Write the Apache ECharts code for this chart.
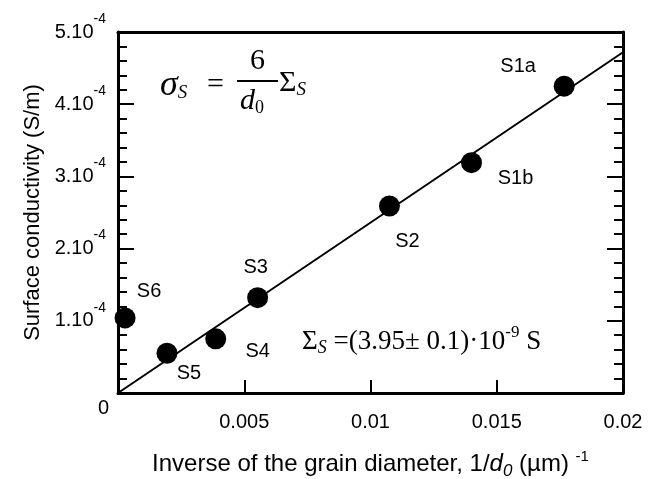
<!DOCTYPE html>
<html>
<head>
<meta charset="utf-8">
<script src="https://cdn.jsdelivr.net/npm/echarts@6/dist/echarts.min.js"></script>
<style>html,body{margin:0;padding:0;background:#fff;}#c{width:657px;height:479px;}</style>
</head>
<body>
<div id="c"></div>
<script>
// Data
const sampleNames = ['S6', 'S5', 'S4', 'S3', 'S2', 'S1b', 'S1a'];
const invDiameter = [0.00028, 0.00194, 0.00387, 0.00553, 0.01075, 0.0140, 0.01767];
const conductivity = [1.04e-4, 0.55e-4, 0.75e-4, 1.32e-4, 2.59e-4, 3.19e-4, 4.25e-4];
const fitX = [0, 0.02];
const fitY = [0, 4.72e-4];
const xTicks = [0, 0.005, 0.01, 0.015, 0.02];
const yTicks = [0, 1e-4, 2e-4, 3e-4, 4e-4, 5e-4];

// label placement (style only)
const labelOffsets = [[24,-26],[22,20],[42,13],[-2,-30],[18,35],[44,16],[-46,-20]];

const chart = echarts.init(document.getElementById('c'));
const F = 'Liberation Sans, Arial, sans-serif';
const T = 'Liberation Serif, Times New Roman, serif';

const yLabelRich = {
  b: {fontSize: 20, fontFamily: F, color: '#000'},
  s: {fontSize: 14, fontFamily: F, color: '#000', padding: [0,0,26,0]}
};
const mirrorCommon = {
  axisLine: {show: true, onZero: false, lineStyle: {color: '#000', width: 3}},
  splitLine: {show: false}
};

const option = {
  animation: false,
  backgroundColor: '#fff',
  grid: {left: 118, right: 34, top: 32, bottom: 86, containLabel: false, outerBoundsMode: 'none'},
  xAxis: [{
    type: 'value', min: xTicks[0], max: xTicks[xTicks.length-1], interval: 0.005,
    axisLine: {show: true, onZero: false, lineStyle: {color: '#000', width: 3}},
    axisTick: {show: true, inside: true, length: 13, lineStyle: {color: '#000', width: 2}},
    splitLine: {show: false},
    axisLabel: {
      showMinLabel: false, margin: 19, fontSize: 20, fontFamily: F, color: '#000',
      formatter: v => v === 0 ? '' : String(+v.toFixed(3))
    },
    name: '{n|Inverse of the grain diameter, 1/}{i|d}{sub|0}{n| (µm) }{sup|-1}',
    nameLocation: 'middle', nameGap: 56,
    nameTextStyle: {
      rich: {
        n: {fontSize: 24, fontFamily: F, color: '#000'},
        i: {fontSize: 24, fontFamily: F, fontStyle: 'italic', color: '#000'},
        sub: {fontSize: 17, fontFamily: F, fontStyle: 'italic', color: '#000', padding: [14,0,0,0]},
        sup: {fontSize: 15, fontFamily: F, color: '#000', padding: [0,0,16,0]}
      }
    }
  }, Object.assign({
    type: 'value', position: 'top', min: xTicks[0], max: xTicks[xTicks.length-1], interval: 0.005,
    axisTick: {show: false}, axisLabel: {show: false}
  }, mirrorCommon)],
  yAxis: [{
    type: 'value', min: yTicks[0], max: yTicks[yTicks.length-1], interval: 1e-4,
    axisLine: {show: true, onZero: false, lineStyle: {color: '#000', width: 3}},
    axisTick: {show: true, inside: true, length: 16, lineStyle: {color: '#000', width: 2}},
    minorTick: {show: true, splitNumber: 5, length: 9, lineStyle: {color: '#000', width: 2}},
    splitLine: {show: false},
    axisLabel: {
      showMinLabel: false, margin: 12, align: 'right',
      formatter: v => v === 0 ? '' : '{b|' + Math.round(v * 1e4) + '.10}{s|-4}',
      rich: yLabelRich
    },
    name: 'Surface conductivity (S/m)', nameLocation: 'middle', nameGap: 73, nameRotate: 90,
    nameTextStyle: {fontSize: 22, fontFamily: F, color: '#000'}
  }, Object.assign({
    type: 'value', position: 'right', min: yTicks[0], max: yTicks[yTicks.length-1], interval: 1e-4,
    axisTick: {show: true, inside: true, length: 16, lineStyle: {color: '#000', width: 2}},
    minorTick: {show: true, splitNumber: 5, length: 9, lineStyle: {color: '#000', width: 2}},
    axisLabel: {show: false}
  }, mirrorCommon)],
  series: [{
    type: 'line', data: fitX.map((x, i) => [x, fitY[i]]),
    showSymbol: false, symbol: 'none', lineStyle: {color: '#000', width: 2}, silent: true, z: 2
  }, {
    type: 'scatter', symbol: 'circle', symbolSize: 21,
    itemStyle: {color: '#000', opacity: 1}, z: 3,
    data: invDiameter.map((x, i) => ({
      value: [x, conductivity[i]], name: sampleNames[i],
      label: {show: true, position: 'inside', offset: labelOffsets[i], formatter: '{b}',
              fontSize: 20, fontFamily: F, color: '#000'}
    }))
  }],
  graphic: [
    {type: 'text', left: 98, top: 398, style: {text: '0', fontSize: 20, fontFamily: F, fill: '#000'}},
    // sigma_S = 6/d0 Sigma_S
    {type: 'text', left: 160, top: 68, style: {
      text: '{i|σ}{si|S}', fill: '#000',
      rich: {
        i: {fontSize: 36, fontFamily: T, fontStyle: 'italic'},
        si: {fontSize: 19, fontFamily: T, fontStyle: 'italic', padding: [14,0,0,0]}
      }}},
    {type: 'text', left: 207, top: 70, style: {text: '=', fontSize: 30, fontFamily: T, fill: '#000'}},
    {type: 'text', left: 250, top: 46, style: {text: '6', fontSize: 30, fontFamily: T, fill: '#000'}},
    {type: 'line', shape: {x1: 237, y1: 81, x2: 278, y2: 81}, style: {stroke: '#000', lineWidth: 2}},
    {type: 'text', left: 240, top: 86, style: {
      text: '{i|d}{s|0}', fill: '#000',
      rich: {
        i: {fontSize: 30, fontFamily: T, fontStyle: 'italic'},
        s: {fontSize: 18, fontFamily: T, padding: [14,0,0,0]}
      }}},
    {type: 'text', left: 279, top: 68, style: {
      text: '{n|Σ}{si|S}', fill: '#000',
      rich: {
        n: {fontSize: 30, fontFamily: T},
        si: {fontSize: 19, fontFamily: T, fontStyle: 'italic', padding: [14,0,0,0]}
      }}},
    // Sigma_S = (3.95 ± 0.1)·10^-9 S
    {type: 'text', left: 302, top: 324, style: {
      text: '{n|Σ}{si|S}{n| =(3.95± 0.1)·10}{sup|-9}{n| S}', fill: '#000',
      rich: {
        n: {fontSize: 27, fontFamily: T},
        si: {fontSize: 18, fontFamily: T, fontStyle: 'italic', padding: [14,0,0,0]},
        sup: {fontSize: 17, fontFamily: T, padding: [0,0,18,0]}
      }}}
  ]
};
chart.setOption(option);
</script>
</body>
</html>
